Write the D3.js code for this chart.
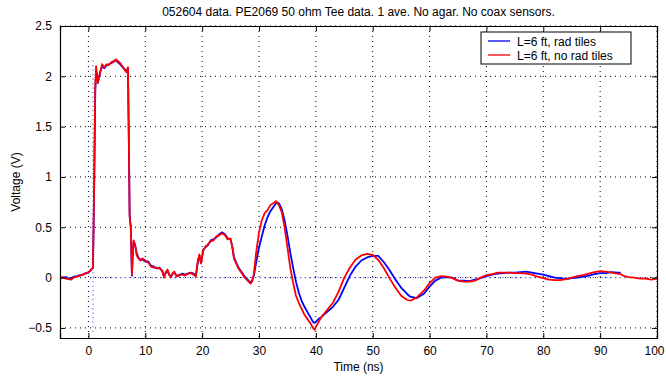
<!DOCTYPE html>
<html>
<head>
<meta charset="utf-8">
<script src="https://cdn.jsdelivr.net/npm/d3@7"></script>
<style>
  body { margin:0; background:#fff; }
  svg { font-family: "Liberation Sans", Arial, sans-serif; }
  .axis path { stroke:#000; }
  .axis line { stroke:#000; }
  .axis text { font-size:12px; fill:#000; }
</style>
</head>
<body>
<script>
// time base (ns) shared by both traces
var timeNs = [-5,-4.5,-4,-3.5,-3,-2.5,-2,-1.5,-1,-0.5,0,0.4,0.8,1.0,1.2,1.35,1.5,1.65,1.8,2.0,
  2.4,2.8,3.2,3.6,4.0,4.4,4.8,5.2,5.6,6.0,6.4,6.7,6.95,7.1,7.25,7.45,7.65,7.8,7.95,8.2,
  8.5,8.8,9.1,9.5,10,10.5,11,11.5,12,12.5,13,13.3,13.6,13.9,14.2,14.5,14.8,15.1,15.5,16,
  16.5,17,17.5,18,18.5,18.9,19.2,19.5,19.8,20.2,20.6,21,21.5,22,22.5,23,23.5,24,24.5,25,
  25.3,25.6,26,26.5,27,27.5,28,28.5,28.8,29.1,29.5,30,30.5,31,31.5,32,32.5,33,33.5,34,
  34.5,35,35.5,36,36.5,37,37.5,38,38.5,39,39.5,39.8,40,40.5,41,42,43,44,45,46,
  47,48,49,50,51,52,53,54,55,56,56.6,57.7,59,60,61,62,63,64,65,66,
  67,68,69,70,71,72,73,74,75,76,77,78,79,80,81,82,83,84,85,86,
  87,88,89,90,91,92,93,93.6,94,95,96,97,98,99,100];

// L=6 ft, rad tiles (blue) - ends near 93.6 ns
var radTiles = [0.0,0.0,0.005,-0.01,-0.005,0.01,0.015,0.025,0.03,0.045,0.05,0.075,0.1,0.85,1.85,2.05,2.02,1.95,1.97,2.03,
  2.1,2.08,2.11,2.12,2.13,2.15,2.16,2.14,2.12,2.09,2.07,2.05,2.08,1.4,0.62,0.5,0.02,0.25,0.36,0.33,
  0.24,0.2,0.18,0.18,0.16,0.16,0.12,0.11,0.09,0.1,0.06,0.01,0.05,0.07,0.03,0.01,0.04,0.05,0.02,0.02,
  0.04,0.03,0.04,0.05,0.04,0.02,0.14,0.22,0.15,0.27,0.31,0.32,0.37,0.38,0.4,0.43,0.45,0.43,0.39,0.38,
  0.31,0.2,0.15,0.09,0.05,0.01,-0.02,-0.05,-0.03,0.02,0.15,0.3,0.41,0.52,0.6,0.66,0.7,0.74,0.74,0.68,
  0.57,0.42,0.25,0.1,-0.04,-0.15,-0.23,-0.29,-0.34,-0.39,-0.44,-0.45,-0.44,-0.41,-0.39,-0.34,-0.29,-0.22,-0.1,0.02,
  0.11,0.17,0.2,0.215,0.215,0.15,0.07,-0.02,-0.1,-0.16,-0.19,-0.205,-0.16,-0.09,-0.03,0.0,0.005,0.0,-0.03,-0.03,
  -0.035,-0.02,-0.005,0.015,0.03,0.04,0.045,0.05,0.05,0.055,0.06,0.05,0.04,0.03,0.015,0.0,-0.005,-0.015,-0.005,0.0,
  0.01,0.02,0.035,0.045,0.045,0.055,0.05,0.05,null,null,null,null,null,null,null];

// L=6 ft, no rad tiles (red)
var noRadTiles = [-0.005,0.005,-0.01,-0.015,-0.02,0.005,0.01,0.02,0.03,0.04,0.055,0.07,0.1,0.9,1.9,2.1,2.0,1.93,1.97,2.02,
  2.12,2.09,2.12,2.11,2.14,2.14,2.17,2.15,2.13,2.1,2.06,2.04,2.09,1.4,0.6,0.5,0.03,0.25,0.37,0.32,
  0.22,0.19,0.17,0.19,0.17,0.15,0.11,0.1,0.1,0.09,0.07,0.0,0.05,0.08,0.03,0.0,0.04,0.06,0.01,0.03,
  0.03,0.02,0.04,0.045,0.03,0.01,0.15,0.23,0.14,0.28,0.3,0.33,0.36,0.37,0.41,0.42,0.44,0.42,0.38,0.39,
  0.3,0.19,0.14,0.08,0.04,0.0,-0.03,-0.06,-0.04,0.04,0.25,0.45,0.57,0.64,0.67,0.72,0.74,0.76,0.72,0.65,
  0.5,0.3,0.1,-0.05,-0.18,-0.25,-0.31,-0.37,-0.41,-0.45,-0.5,-0.52,-0.49,-0.44,-0.39,-0.32,-0.25,-0.14,0.0,0.1,
  0.18,0.22,0.235,0.225,0.175,0.09,-0.01,-0.1,-0.18,-0.22,-0.23,-0.2,-0.13,-0.055,0.0,0.015,0.01,-0.005,-0.03,-0.04,
  -0.04,-0.03,0.0,0.025,0.035,0.05,0.05,0.05,0.045,0.045,0.04,0.03,0.01,-0.005,-0.02,-0.025,-0.025,-0.015,0.0,0.015,
  0.025,0.04,0.055,0.065,0.06,0.05,0.04,0.035,0.02,0.005,0.0,-0.01,-0.01,-0.02,-0.01];

// dotted reference marker (trigger + zero line)
var markerT = [0.8, 0.8];
var markerV = [-0.54, 2.16];
var zeroT = [0.8, 100];
var zeroV = [0, 0];

var xTicks = [0,10,20,30,40,50,60,70,80,90,100];
var yTicks = [-0.5,0,0.5,1,1.5,2,2.5];
var legendNames = ["L=6 ft, rad tiles", "L=6 ft, no rad tiles"];
var seriesColors = ["#0000ff", "#ff0000"];

var W = 666, H = 377;
var margin = {left:60, right:9, top:26, bottom:39};
var width = W - margin.left - margin.right;
var height = H - margin.top - margin.bottom;

var x = d3.scaleLinear().domain([-5,100]).range([0,width]);
var y = d3.scaleLinear().domain([-0.6,2.5]).range([height,0]);

var svg = d3.select("body").append("svg").attr("width",W).attr("height",H);
var chartGroup = svg.append("g").attr("transform","translate("+margin.left+","+margin.top+")");

// grid
chartGroup.selectAll(".gx").data(xTicks).enter().append("line")
  .attr("x1",function(d){return x(d);}).attr("x2",function(d){return x(d);})
  .attr("y1",0).attr("y2",height)
  .attr("stroke","#000").attr("stroke-width",1).attr("stroke-dasharray","1,4");
chartGroup.selectAll(".gy").data(yTicks).enter().append("line")
  .attr("y1",function(d){return y(d);}).attr("y2",function(d){return y(d);})
  .attr("x1",0).attr("x2",width)
  .attr("stroke","#000").attr("stroke-width",1).attr("stroke-dasharray","1,4");

// dotted marker
var line2 = d3.line().x(function(d){return x(d[0]);}).y(function(d){return y(d[1]);});
[[markerT,markerV],[zeroT,zeroV]].forEach(function(m){
  chartGroup.append("path").attr("d",line2(d3.zip(m[0],m[1])))
    .attr("fill","none").attr("stroke","#7070ff").attr("stroke-width",1).attr("stroke-dasharray","1.5,3");
});

// traces
var trace = d3.line()
  .defined(function(d){return d[1] !== null;})
  .x(function(d){return x(d[0]);})
  .y(function(d){return y(d[1]);});
[radTiles, noRadTiles].forEach(function(s,i){
  chartGroup.append("path").attr("d",trace(d3.zip(timeNs,s)))
    .attr("fill","none").attr("stroke",seriesColors[i]).attr("stroke-width",1.8)
    .attr("stroke-linejoin","round");
});

// axes, MATLAB style ticks pointing inward on all sides
var fmt = function(d){ return d < 0 ? "\u2212" + Math.abs(d) : String(d); };
var xAxisG = chartGroup.append("g").attr("class","axis x")
  .attr("transform","translate(0,"+height+")")
  .call(d3.axisBottom(x).tickValues(xTicks).tickSize(-5).tickPadding(8).tickFormat(fmt));
// keep "100" inside the window
xAxisG.selectAll(".tick text").filter(function(d){return d === 100;}).attr("dx","-3");
chartGroup.append("g").attr("class","axis")
  .call(d3.axisTop(x).tickValues(xTicks).tickSize(-5).tickFormat(""));
chartGroup.append("g").attr("class","axis y")
  .call(d3.axisLeft(y).tickValues(yTicks).tickSize(-5).tickPadding(8).tickFormat(fmt));
chartGroup.append("g").attr("class","axis")
  .attr("transform","translate("+width+",0)")
  .call(d3.axisRight(y).tickValues(yTicks).tickSize(-5).tickFormat(""));
chartGroup.selectAll(".axis .domain").attr("stroke-width",1.2);

// legend
var lg = chartGroup.append("g").attr("transform","translate("+(width-176)+",6)");
lg.append("rect").attr("width",150).attr("height",32).attr("fill","#fff").attr("stroke","#000");
legendNames.forEach(function(n,i){
  lg.append("line").attr("x1",7).attr("x2",29).attr("y1",9+i*14).attr("y2",9+i*14)
    .attr("stroke",seriesColors[i]).attr("stroke-width",1.3);
  lg.append("text").attr("x",36).attr("y",13.5+i*14).attr("font-size","12px").text(n);
});

// labels
svg.append("text").attr("x",margin.left+width/2).attr("y",16).attr("text-anchor","middle")
  .attr("font-size","12px").text("052604 data. PE2069 50 ohm Tee data. 1 ave. No agar. No coax sensors.");
svg.append("text").attr("x",margin.left+width/2).attr("y",371).attr("text-anchor","middle")
  .attr("font-size","12px").text("Time (ns)");
svg.append("text").attr("transform","translate(20,"+(margin.top+height/2)+") rotate(-90)")
  .attr("text-anchor","middle").attr("font-size","12px").text("Voltage (V)");
</script>
</body>
</html>
